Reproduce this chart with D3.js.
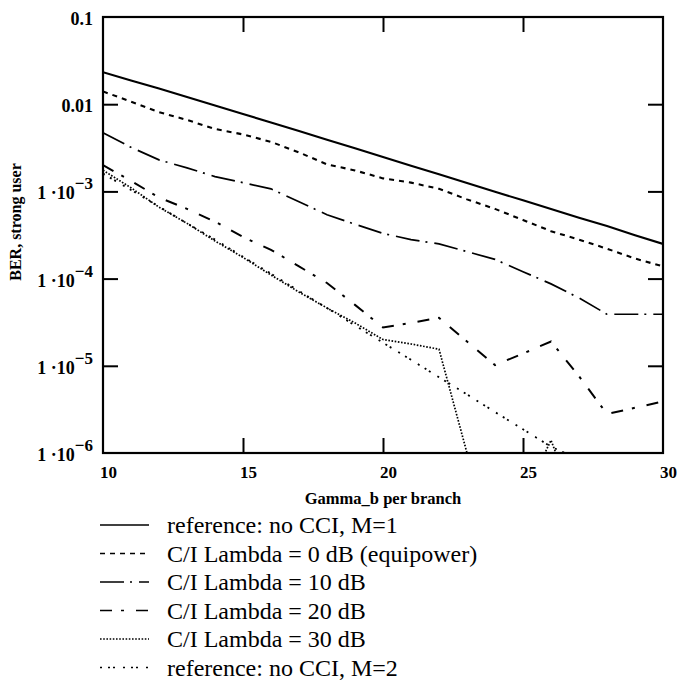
<!DOCTYPE html>
<html>
<head>
<meta charset="utf-8">
<script src="https://cdn.jsdelivr.net/npm/d3@7"></script>
<style>
  body { margin: 0; background: #fff; }
  svg { display: block; }
  text { font-family: "Liberation Serif", "Times New Roman", serif; fill: #000; }
</style>
</head>
<body>
<div id="chart"></div>
<script>
// gamma_b per branch (dB)
const gamma = [10,11,12,13,14,15,16,17,18,19,20,21,22,23,24,25,26,27,28,29,30];

// BER, strong user
const berRefM1 = [0.0233,0.0187,0.0151,0.0121,0.00967,0.00772,0.00616,0.00492,0.00392,0.00312,0.00248,
                  0.00197,0.00157,0.00125,0.00099,0.00079,0.00063,0.0005,0.0004,0.000315,0.00025];
const ber0dB   = [0.014,0.0107,0.0081,0.0066,0.0052,0.0045,0.0037,0.0028,0.00204,0.00174,0.00141,
                  0.00126,0.00107,0.00081,0.00063,0.00047,0.00035,0.00028,0.00022,0.00017,0.000138];
const ber10dB  = [0.0047,0.0032,0.0023,0.00186,0.00148,0.00126,0.00107,0.00076,0.00054,0.00042,0.00033,
                  0.00028,0.00025,0.000204,0.000166,0.00012,8.7e-5,6.0e-5,3.9e-5,3.9e-5,3.9e-5];
const ber20dB  = [0.002,0.00132,0.00085,0.00063,0.00045,0.0003,0.000214,0.000138,8.9e-5,5.0e-5,2.75e-5,
                  3.1e-5,3.55e-5,1.9e-5,1.02e-5,1.38e-5,1.9e-5,7.6e-6,2.8e-6,3.3e-6,3.9e-6];
const ber30dB  = [0.00175,0.0011,0.00066,0.00043,0.00027,0.000175,0.00011,7.0e-5,4.6e-5,3.1e-5,2.0e-5,
                  1.78e-5,1.55e-5,1.0e-6,2e-7,3e-7,1.4e-6,2e-7,1e-7,1e-7,1e-7];
const berRefM2 = [0.0016,0.00104,0.00067,0.00043,0.00028,0.000178,0.000114,7.2e-5,4.6e-5,2.9e-5,1.84e-5,
                  1.17e-5,7.4e-6,4.7e-6,2.95e-6,1.87e-6,1.18e-6,8.5e-7,4.7e-7,3.0e-7,1.9e-7];

const seriesNames = ["reference: no CCI, M=1", "C/I Lambda = 0 dB (equipower)", "C/I Lambda = 10 dB",
                     "C/I Lambda = 20 dB", "C/I Lambda = 30 dB", "reference: no CCI, M=2"];

const xTicks = [10,15,20,25,30];
const yTicks = [1e-6,1e-5,1e-4,1e-3,0.01,0.1];
const yTickBase = ["1 ·10","1 ·10","1 ·10","1 ·10","0.01","0.1"];
const yTickExp  = ["−6","−5","−4","−3","",""];

const W = 679, H = 680;
const m = {left: 103, right: 663, top: 17, bottom: 453};

const svg = d3.select('#chart').append('svg').attr('width', W).attr('height', H);

const x = d3.scaleLinear().domain([10,30]).range([m.left,m.right]);
const y = d3.scaleLog().domain([1e-6,0.1]).range([m.bottom,m.top]);

// line styles per series (Mathcad-like)
const styles = [
    {dash: null,            width: 2.1},
    {dash: '5,5',           width: 2.1},
    {dash: '24,6,2,7',      width: 1.7},
    {dash: '12,9,3,12',     width: 2.0},
    {dash: '1.6,1.6',       width: 1.7},
    {dash: '2,6,2,3,2,8',   width: 1.8}
];
const allSeries = [berRefM1, ber0dB, ber10dB, ber20dB, ber30dB, berRefM2];

svg.append('clipPath').attr('id','plot-clip')
    .append('rect').attr('x',m.left).attr('y',m.top)
    .attr('width',m.right-m.left).attr('height',m.bottom-m.top);

let line = d3.line()
    .x((d,i) => x(gamma[i]))
    .y((d) => y(d));

svg.append('g').attr('clip-path','url(#plot-clip)')
    .selectAll('path').data(allSeries).join('path')
    .attr('d', line)
    .attr('fill','none')
    .attr('stroke','#000')
    .attr('stroke-width', (d,i) => styles[i].width)
    .attr('stroke-dasharray', (d,i) => styles[i].dash);

// axes: ticks pointing inward on all four sides
let hideDomain = g => g.select('.domain').remove();
svg.append('g').attr('transform',`translate(${m.left},0)`)
    .call(d3.axisLeft(y).tickValues(yTicks.slice(1,-1)).tickSize(-15).tickFormat(''))
    .call(hideDomain);
svg.append('g').attr('transform',`translate(${m.right},0)`)
    .call(d3.axisRight(y).tickValues(yTicks.slice(1,-1)).tickSize(-15).tickFormat(''))
    .call(hideDomain);
svg.append('g').attr('transform',`translate(0,${m.bottom})`)
    .call(d3.axisBottom(x).tickValues(xTicks.slice(1,-1)).tickSize(-15).tickFormat(''))
    .call(hideDomain);
svg.append('g').attr('transform',`translate(0,${m.top})`)
    .call(d3.axisTop(x).tickValues(xTicks.slice(1,-1)).tickSize(-15).tickFormat(''))
    .call(hideDomain);
svg.selectAll('.tick line').attr('stroke','#000').attr('stroke-width',2);

svg.append('rect')
    .attr('x',m.left).attr('y',m.top).attr('width',m.right-m.left).attr('height',m.bottom-m.top)
    .attr('fill','none').attr('stroke','#000').attr('stroke-width',2.2);

// y tick labels
let yl = svg.append('g').selectAll('text').data(yTicks).join('text')
    .attr('x', 93).attr('y', d => y(d) + 8)
    .attr('text-anchor','end')
    .style('font-size','18px').style('font-weight','bold');
yl.append('tspan').text((d,i) => yTickBase[i]);
yl.append('tspan').attr('dy',-10).style('font-size','17px').text((d,i) => yTickExp[i]);

// x tick labels
svg.append('g').selectAll('text').data(xTicks).join('text')
    .attr('x', d => x(d) - 3).attr('y', m.bottom + 25)
    .style('font-size','17px').style('font-weight','bold')
    .text(d => d);

// axis titles
svg.append('text')
    .attr('transform',`translate(21,222) rotate(-90)`)
    .attr('text-anchor','middle')
    .style('font-size','16px').style('font-weight','bold')
    .text('BER, strong user');
svg.append('text')
    .attr('x',(m.left+m.right)/2).attr('y',504)
    .attr('text-anchor','middle')
    .style('font-size','16.5px').style('font-weight','bold')
    .text('Gamma_b per branch');

// legend
let rowH = 28.5, legTop = 527;
let leg = svg.append('g').selectAll('g').data(seriesNames).join('g')
    .attr('transform',(d,i) => `translate(0,${legTop + i*rowH})`);
leg.append('line')
    .attr('x1',100).attr('x2',149).attr('y1',-2).attr('y2',-2)
    .attr('stroke','#000')
    .attr('stroke-width',(d,i) => Math.min(styles[i].width,1.6))
    .attr('stroke-dasharray',(d,i) => styles[i].dash);
leg.append('text')
    .attr('x',167).attr('y',6)
    .style('font-size','24px')
    .text(d => d);
</script>
</body>
</html>
